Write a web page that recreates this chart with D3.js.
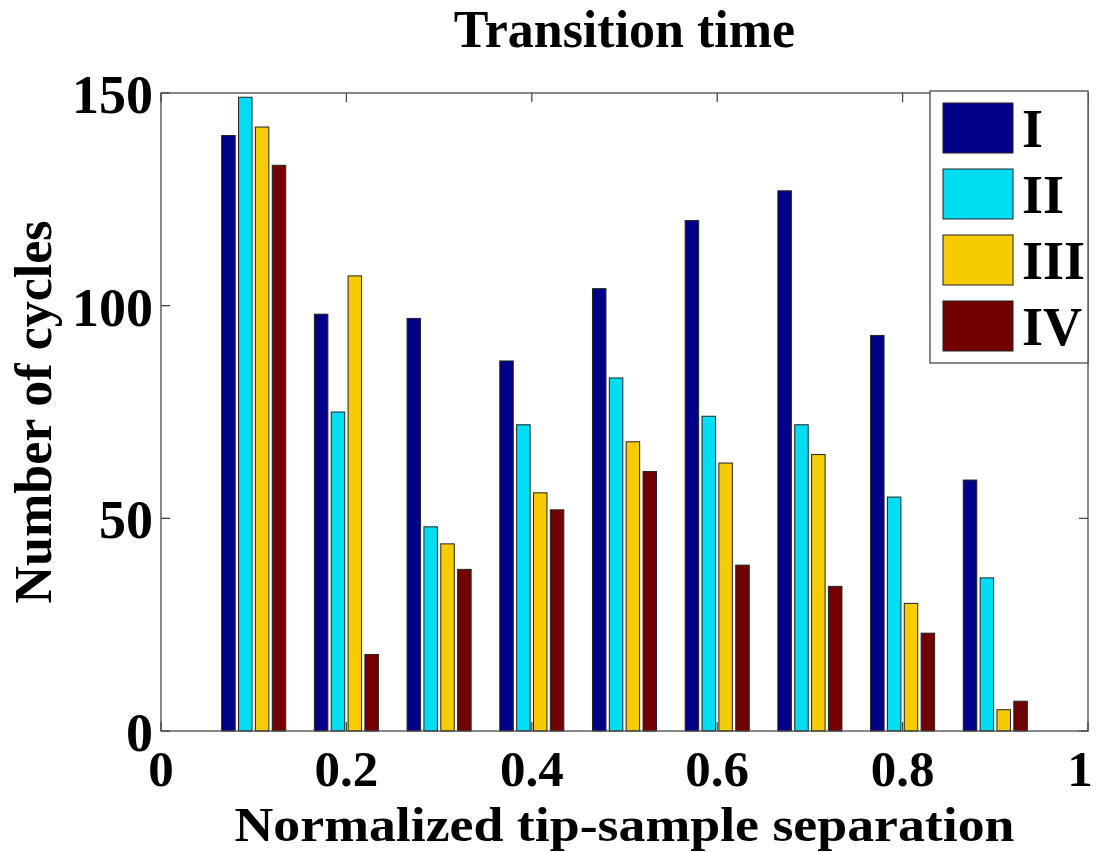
<!DOCTYPE html>
<html>
<head>
<meta charset="utf-8">
<script src="https://cdn.jsdelivr.net/npm/d3@7"></script>
<style>
  html, body { margin: 0; padding: 0; background: #fff; }
  svg text { font-family: "Liberation Serif", "Times New Roman", serif; font-weight: bold; fill: #000; }
</style>
</head>
<body>
<svg id="chart"></svg>
<script>
// 数据
var groups = [0.1, 0.2, 0.3, 0.4, 0.5, 0.6, 0.7, 0.8, 0.9];
var seriesNames = ['I', 'II', 'III', 'IV'];
var seriesI   = [140, 98, 97, 87, 104, 120, 127, 93, 59];
var seriesII  = [149, 75, 48, 72, 83, 74, 72, 55, 36];
var seriesIII = [142, 107, 44, 56, 68, 63, 65, 30, 5];
var seriesIV  = [133, 18, 38, 52, 61, 39, 34, 23, 7];
var xTicks = [0, 0.2, 0.4, 0.6, 0.8, 1];
var yTicks = [0, 50, 100, 150];
var colors = ['#000088', '#00dcf2', '#f6cc00', '#720000'];

var allSeries = [seriesI, seriesII, seriesIII, seriesIV];

var width = 1096, height = 852;
var margin = {left: 161, right: 8, top: 93, bottom: 121};

var svg = d3.select('#chart').attr('width', width).attr('height', height);
svg.append('rect').attr('width', width).attr('height', height).attr('fill', '#fff');

// 比例尺
var x = d3.scaleLinear().domain([0, 1]).range([margin.left, width - margin.right]);
var y = d3.scaleLinear().domain([0, 150]).range([height - margin.bottom, margin.top]);

// matlab 风格分组
var n = seriesNames.length;
var groupWidth = n / (n + 1.5) * 0.1;
var slot = groupWidth / n;
var barW = x(slot * 0.8) - x(0);

var bars = [];
allSeries.forEach(function(s, i) {
    s.forEach(function(v, j) {
        bars.push({series: i, x: groups[j] - groupWidth / 2 + slot * (i + 0.5), v: v});
    });
});

svg.append('g').selectAll('rect')
    .data(bars)
    .enter()
    .append('rect')
    .attr('x', function(d) { return x(d.x) - barW / 2; })
    .attr('y', function(d) { return y(d.v); })
    .attr('width', barW)
    .attr('height', function(d) { return y(0) - y(d.v); })
    .attr('fill', function(d) { return colors[d.series]; })
    .attr('stroke', '#222')
    .attr('stroke-width', 1);

// 坐标轴
var tickLen = 9;
var axisColor = '#4a4a4a';
var x0 = x(0), x1 = x(1), y0 = y(0), y1 = y(150);

var axes = svg.append('g').attr('stroke', axisColor).attr('stroke-width', 1.3).attr('fill', 'none');
axes.append('rect').attr('x', x0).attr('y', y1).attr('width', x1 - x0).attr('height', y0 - y1);

xTicks.forEach(function(t) {
    axes.append('line').attr('x1', x(t)).attr('x2', x(t)).attr('y1', y0).attr('y2', y0 - tickLen);
    axes.append('line').attr('x1', x(t)).attr('x2', x(t)).attr('y1', y1).attr('y2', y1 + tickLen);
});
yTicks.forEach(function(t) {
    axes.append('line').attr('x1', x0).attr('x2', x0 + tickLen).attr('y1', y(t)).attr('y2', y(t));
    axes.append('line').attr('x1', x1).attr('x2', x1 - tickLen).attr('y1', y(t)).attr('y2', y(t));
});

// 刻度标签
svg.append('g').selectAll('text')
    .data(xTicks)
    .enter()
    .append('text')
    .attr('x', function(d) { return Math.min(x(d), width - 16); })
    .attr('y', y0 + 55)
    .attr('text-anchor', 'middle')
    .attr('font-size', 51)
    .text(function(d) { return d3.format('')(d); });

svg.append('g').selectAll('text')
    .data(yTicks)
    .enter()
    .append('text')
    .attr('x', x0 - 8)
    .attr('y', function(d) { return y(d) + 20; })
    .attr('text-anchor', 'end')
    .attr('font-size', 54)
    .text(function(d) { return d; });

// 标题
svg.append('text')
    .attr('x', (x0 + x1) / 2)
    .attr('y', 47)
    .attr('text-anchor', 'middle')
    .attr('font-size', 52)
    .text('Transition time');

svg.append('text')
    .attr('x', (x0 + x1) / 2)
    .attr('y', 841)
    .attr('text-anchor', 'middle')
    .attr('font-size', 49)
    .attr('textLength', 780)
    .attr('lengthAdjust', 'spacingAndGlyphs')
    .text('Normalized tip-sample separation');

svg.append('text')
    .attr('transform', 'translate(51,' + (y0 + y1) / 2 + ') rotate(-90)')
    .attr('text-anchor', 'middle')
    .attr('font-size', 52)
    .text('Number of cycles');

// 图例
var legend = svg.append('g').attr('transform', 'translate(930,91)');
legend.append('rect')
    .attr('width', 158).attr('height', 272)
    .attr('fill', '#fff').attr('stroke', axisColor).attr('stroke-width', 1.3);
var items = legend.selectAll('g.item')
    .data(seriesNames)
    .enter()
    .append('g')
    .attr('class', 'item')
    .attr('transform', function(d, i) { return 'translate(0,' + (12 + i * 66) + ')'; });
items.append('rect')
    .attr('x', 13).attr('width', 70).attr('height', 50)
    .attr('fill', function(d, i) { return colors[i]; })
    .attr('stroke', '#222');
items.append('text')
    .attr('x', 92)
    .attr('y', 44)
    .attr('font-size', 54)
    .text(function(d) { return d; });
</script>
</body>
</html>
